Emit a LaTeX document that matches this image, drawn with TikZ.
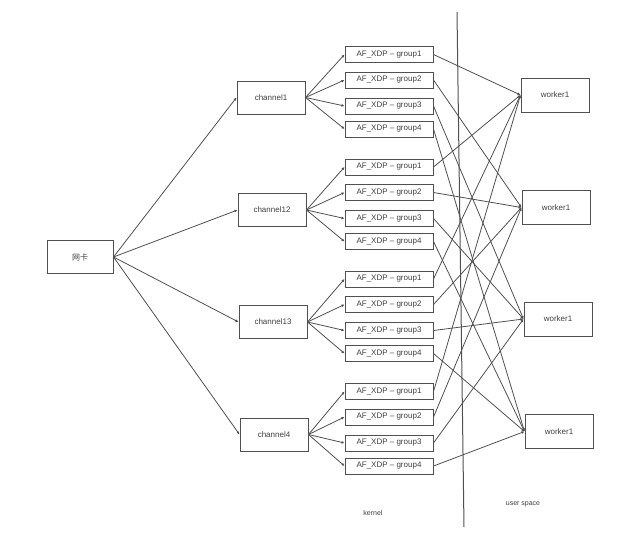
\documentclass[tikz,border=0pt]{standalone}
\usepackage{fontspec}
\setmainfont{Liberation Sans}
\newfontfamily\cjk{Noto Sans CJK SC}
\usepackage{xcolor}
\usepackage{tikz}
\usetikzlibrary{arrows.meta, positioning}
\definecolor{cLine}{HTML}{505050}
\definecolor{cText}{HTML}{404040}
\tikzstyle{nic}    = [rectangle, draw=cLine, line width=1pt, minimum width=66pt, minimum height=33pt, text=cText, font=\fontsize{8}{9.5}\selectfont\cjk]
\tikzstyle{chan}   = [rectangle, draw=cLine, line width=1pt, minimum width=68pt, minimum height=33pt, text=cText, font=\fontsize{8}{9.5}\selectfont]
\tikzstyle{grp}    = [rectangle, draw=cLine, line width=1pt, minimum width=88pt, minimum height=16pt, inner sep=1pt, text=cText, font=\fontsize{8}{9.5}\selectfont]
\tikzstyle{worker} = [rectangle, draw=cLine, line width=1pt, minimum width=68pt, minimum height=34pt, text=cText, font=\fontsize{8}{9.5}\selectfont]
\tikzstyle{lbl}    = [text=cText, font=\fontsize{7}{8.5}\selectfont]
\tikzstyle{arrow}  = [draw=cLine, line width=0.8pt, -{Latex[length=3pt,width=2.8pt]}]

\begin{document}
\begin{tikzpicture}[x=1pt, y=-1pt]
\useasboundingbox (0,0) rectangle (638,547);
\node (nic) [nic] at (80,257) {网卡};
\node (ch1) [chan] at (271,97.5) {channel1};
\node (ch2) [chan] at (272,210) {channel12};
\node (ch3) [chan] at (273,322) {channel13};
\node (ch4) [chan] at (274,434.5) {channel4};
\foreach \c/\y in {1/97.5, 2/210, 3/322, 4/434.5}
  \foreach \g/\d in {1/-43, 2/-17.5, 3/8.5, 4/31.5}
    \node (g\c\g) [grp] at (389,{\y+(\d)}) {AF\_XDP -- group\g};
\node (w1) [worker] at (555,95) {worker1};
\node (w2) [worker] at (556,207.5) {worker1};
\node (w3) [worker] at (558,319) {worker1};
\node (w4) [worker] at (559,431.5) {worker1};

% kernel / user space split
\coordinate (splittop) at (457,12);
\coordinate (splitbot) at (464,527);
\draw [cLine, line width=1pt] (splittop) -- (splitbot);
\node (kern) [lbl] at (373,513) {kernel};
\node (user) [lbl] at (523,504) {user space};

\foreach \c in {1,...,4} {
  \draw [arrow] (nic.east) -- (ch\c.west);
  \foreach \g in {1,...,4} {
    \draw [arrow] (ch\c.east) -- (g\c\g.west);
    \draw [arrow] (g\c\g.east) -- (w\g.west);
  }
}
\end{tikzpicture}
\end{document}
